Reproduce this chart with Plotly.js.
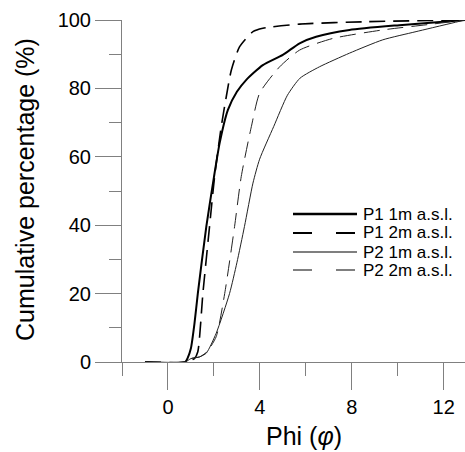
<!DOCTYPE html>
<html>
<head>
<meta charset="utf-8">
<script src="https://cdn.plot.ly/plotly-3.0.1.min.js"></script>
<style>html,body{margin:0;padding:0;background:#fff;}#chart{width:465px;height:452px;}</style>
</head>
<body>
<div id="chart"></div>
<script>
// Series names
const seriesNames = ["P1 1m a.s.l.", "P1 2m a.s.l.", "P2 1m a.s.l.", "P2 2m a.s.l."];

// P1 1m a.s.l.
const p1_1m_x = [-1, 0.75, 0.86, 1.0, 1.15, 1.3, 1.67, 2.0, 2.25, 2.61, 3.0, 3.41, 4.13, 5.0, 5.73, 6.45, 7.9, 10.07, 12.93];
const p1_1m_y = [0, 0, 1.2, 4, 11, 20, 39.6, 54, 64, 73.7, 79, 82.5, 86.8, 89.8, 93.2, 95.1, 97.1, 98.5, 100];

// P1 2m a.s.l.
const p1_2m_x = [-1, 0.75, 1.15, 1.3, 1.52, 1.81, 2.03, 2.32, 2.55, 2.76, 3.12, 3.70, 4.13, 5.73, 8.63, 12.93];
const p1_2m_y = [0, 0, 1, 3, 20, 39.6, 54.2, 68.8, 78, 85.4, 92.2, 96.6, 97.6, 98.8, 99.5, 100];

// P2 1m a.s.l.
const p2_1m_x = [-1, 0.75, 1.0, 1.38, 1.67, 2.1, 2.68, 3.0, 3.33, 3.70, 3.99, 4.6, 5.2, 5.75, 6.59, 7.9, 9.35, 10.8, 12.93];
const p2_1m_y = [0, 0, 1, 1.5, 2.6, 8.4, 20, 29, 39.6, 52.3, 59.3, 68.8, 78, 83, 86.3, 90.3, 94.2, 96.6, 100];

// P2 2m a.s.l.
const p2_2m_x = [-1, 0.75, 1.0, 1.38, 1.7, 2.1, 2.47, 2.9, 3.19, 3.63, 3.99, 4.86, 5.73, 7.17, 9.35, 11.5, 12.93];
const p2_2m_y = [0, 0, 1, 1.5, 3, 7.4, 20, 39.6, 54.2, 68.8, 78.6, 86.3, 91.2, 94.6, 97.1, 98.8, 100];

// Axis ticks
const xTickVals = [0, 4, 8, 12];
const yTickVals = [0, 20, 40, 60, 80, 100];

const FONT = "Arial, 'Liberation Sans', sans-serif";

const styles = [
  {color: "#000", width: 2, dash: "solid"},
  {color: "#000", width: 1.6, dash: "16px,8px"},
  {color: "#222", width: 1, dash: "solid"},
  {color: "#222", width: 1, dash: "16px,8px"}
];
const legendDash = ["solid", "19px,24px", "solid", "19px,24px"];
const legendWidth = [2.6, 2, 1.4, 1.4];
const legendColor = ["#000", "#000", "#555", "#555"];

const xs = [p1_1m_x, p1_2m_x, p2_1m_x, p2_2m_x];
const ys = [p1_1m_y, p1_2m_y, p2_1m_y, p2_2m_y];

const traces = xs.map((x, i) => ({
  x: x, y: ys[i], type: "scatter", mode: "lines", name: seriesNames[i],
  line: {color: styles[i].color, width: styles[i].width, dash: styles[i].dash, shape: "spline", smoothing: 0.6},
  showlegend: false, hoverinfo: "skip"
}));

// plot area in pixels
const L = 122, T = 20, W = 465, H = 452, B = 90;
const pw = W - L, ph = H - T - B;
const px2paper = (px) => (px - L) / pw;
const py2paper = (py) => (H - B - py) / ph;

const legendRows = [214, 233, 252, 270];
const shapes = [];
const annotations = [];
legendRows.forEach((ry, i) => {
  shapes.push({type: "line", xref: "paper", yref: "paper",
    x0: px2paper(293), x1: px2paper(357), y0: py2paper(ry), y1: py2paper(ry),
    line: {color: legendColor[i], width: legendWidth[i], dash: legendDash[i]}});
  annotations.push({xref: "paper", yref: "paper", x: px2paper(361), y: py2paper(ry),
    xanchor: "left", yanchor: "middle", showarrow: false, text: seriesNames[i],
    font: {family: FONT, size: 17, color: "#000"}});
});
annotations.push({xref: "paper", yref: "paper", x: px2paper(304), y: py2paper(436),
  xanchor: "center", yanchor: "middle", showarrow: false, text: "Phi (<i>φ</i>)",
  font: {family: FONT, size: 25, color: "#000"}});
annotations.push({xref: "paper", yref: "paper", x: px2paper(25), y: py2paper(190),
  xanchor: "center", yanchor: "middle", showarrow: false, textangle: -90,
  text: "Cumulative percentage (%)",
  font: {family: FONT, size: 25, color: "#000"}});

const axisCommon = {
  showline: true, linecolor: "#808080", linewidth: 1,
  ticks: "outside", tickcolor: "#808080", tickwidth: 1,
  showgrid: false, zeroline: false, mirror: false,
  tickfont: {family: FONT, size: 20, color: "#000"}
};

const layout = {
  width: W, height: H,
  margin: {l: L, r: 0, t: T, b: B, pad: 0},
  paper_bgcolor: "#fff", plot_bgcolor: "#fff",
  showlegend: false,
  xaxis: Object.assign({}, axisCommon, {
    range: [-2, 12.93], tickvals: xTickVals, ticktext: xTickVals.map(String), ticklen: 27,
    minor: {dtick: 2, tick0: 0, ticks: "outside", ticklen: 13, tickcolor: "#808080", tickwidth: 1, showgrid: false}
  }),
  yaxis: Object.assign({}, axisCommon, {
    range: [0, 100], tickvals: yTickVals, ticktext: yTickVals.map(String), ticklen: 26,
    minor: {dtick: 10, tick0: 0, ticks: "outside", ticklen: 12, tickcolor: "#808080", tickwidth: 1, showgrid: false}
  }),
  shapes: shapes,
  annotations: annotations
};

Plotly.newPlot("chart", traces, layout, {displayModeBar: false, staticPlot: true});
</script>
</body>
</html>
